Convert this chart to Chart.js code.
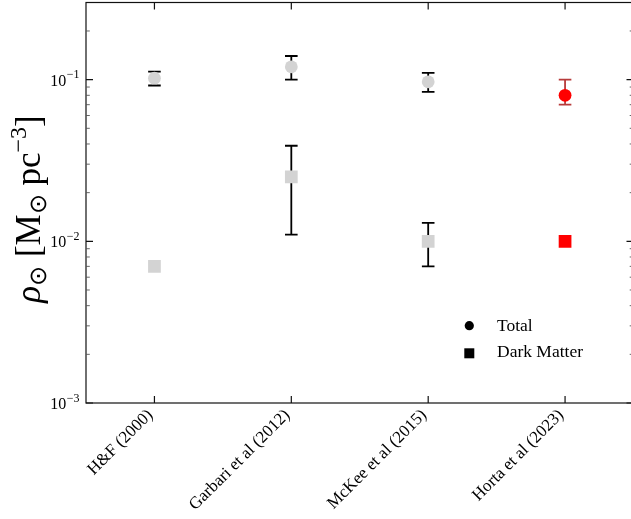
<!DOCTYPE html>
<html>
<head>
<meta charset="utf-8">
<title>Local density</title>
<script src="https://cdn.jsdelivr.net/npm/chart.js@4/dist/chart.umd.min.js"></script>
<style>
  html, body { margin: 0; padding: 0; background: #fff; overflow: hidden; }
  #wrap { width: 631px; height: 519px; overflow: hidden; position: relative; }
  canvas { display: block; }
</style>
</head>
<body>
<div id="wrap"><canvas id="chart" width="640" height="519" style="width:640px;height:519px"></canvas></div>
<script>
// Local (solar neighbourhood) mass density estimates, in Msun / pc^3
const studies = ['H&F (2000)', 'Garbari et al (2012)', 'McKee et al (2015)', 'Horta et al (2023)'];

const totalDensity = [0.102, 0.120, 0.097, 0.080];
const totalUpper   = [0.112, 0.140, 0.110, 0.100];
const totalLower   = [0.092, 0.100, 0.084, 0.070];

const dmDensity = [0.007, 0.025, 0.010, 0.010];
const dmUpper   = [null, 0.039, 0.013, null];
const dmLower   = [null, 0.011, 0.007, null];

const yTickValues = [0.001, 0.01, 0.1];
const yTickExponents = ['\u22123', '\u22122', '\u22121'];

const legendLabels = ['Total', 'Dark Matter'];

const SERIF = '"Liberation Serif", "Times New Roman", Times, serif';
const GREY = '#d3d3d3';
const RED = '#ff0000';
const markerColors = studies.map((s, i) => i === studies.length - 1 ? RED : GREY);
const barColors = studies.map((s, i) => i === studies.length - 1 ? 'rgba(170,25,25,0.85)' : '#000');

function errorBar(ctx, x, yHi, yLo, color) {
  const cap = 6.3;
  ctx.save();
  ctx.strokeStyle = color;
  ctx.lineWidth = 1.8;
  ctx.beginPath();
  ctx.moveTo(x, yHi); ctx.lineTo(x, yLo);
  ctx.moveTo(x - cap, yHi); ctx.lineTo(x + cap, yHi);
  ctx.moveTo(x - cap, yLo); ctx.lineTo(x + cap, yLo);
  ctx.stroke();
  ctx.restore();
}

const axesPlugin = {
  id: 'axesPlugin',
  beforeDatasetsDraw(chart) {
    const ctx = chart.ctx, xs = chart.scales.x, ys = chart.scales.y;
    studies.forEach((s, i) => {
      const x = xs.getPixelForValue(i);
      if (totalUpper[i] != null)
        errorBar(ctx, x, ys.getPixelForValue(totalUpper[i]), ys.getPixelForValue(totalLower[i]), barColors[i]);
      if (dmUpper[i] != null)
        errorBar(ctx, x, ys.getPixelForValue(dmUpper[i]), ys.getPixelForValue(dmLower[i]), barColors[i]);
    });
  },
  afterDraw(chart) {
    const ctx = chart.ctx, xs = chart.scales.x, ys = chart.scales.y;
    const a = chart.chartArea;
    ctx.save();

    // frame
    ctx.strokeStyle = '#111';
    ctx.lineWidth = 1.2;
    ctx.strokeRect(a.left, a.top, a.right - a.left, a.bottom - a.top);

    // y ticks (inward, mirrored on the right)
    const major = 7, minor = 3.8;
    ctx.lineCap = 'butt';
    yTickValues.forEach(v => {
      const y = ys.getPixelForValue(v);
      ctx.strokeStyle = '#111'; ctx.lineWidth = 1.2;
      ctx.beginPath();
      ctx.moveTo(a.left, y); ctx.lineTo(a.left + major, y);
      ctx.moveTo(a.right, y); ctx.lineTo(a.right - major, y);
      ctx.stroke();
    });
    const lo = Math.floor(Math.log10(ys.min)), hi = Math.ceil(Math.log10(ys.max));
    ctx.strokeStyle = '#555'; ctx.lineWidth = 0.9;
    for (let d = lo; d < hi; d++) {
      for (let m = 2; m <= 9; m++) {
        const v = m * Math.pow(10, d);
        if (v <= ys.min || v >= ys.max) continue;
        const y = ys.getPixelForValue(v);
        ctx.beginPath();
        ctx.moveTo(a.left, y); ctx.lineTo(a.left + minor, y);
        ctx.moveTo(a.right, y); ctx.lineTo(a.right - minor, y);
        ctx.stroke();
      }
    }

    // x ticks (inward, mirrored on top)
    ctx.strokeStyle = '#111'; ctx.lineWidth = 1.2;
    studies.forEach((s, i) => {
      const x = xs.getPixelForValue(i);
      ctx.beginPath();
      ctx.moveTo(x, a.bottom); ctx.lineTo(x, a.bottom - major);
      ctx.moveTo(x, a.top); ctx.lineTo(x, a.top + major);
      ctx.stroke();
    });

    // y tick labels: 10^n
    ctx.fillStyle = '#000';
    ctx.textBaseline = 'alphabetic';
    ctx.textAlign = 'left';
    yTickValues.forEach((v, k) => {
      const y = ys.getPixelForValue(v);
      ctx.font = `16px ${SERIF}`;
      const wBase = ctx.measureText('10').width;
      ctx.font = `12px ${SERIF}`;
      const wExp = ctx.measureText(yTickExponents[k]).width;
      const x0 = a.left - 7 - wBase - wExp;
      ctx.font = `16px ${SERIF}`;
      ctx.fillText('10', x0, y + 6);
      ctx.font = `12px ${SERIF}`;
      ctx.fillText(yTickExponents[k], x0 + wBase + 0.5, y - 1.5);
    });

    // x tick labels, rotated 45 degrees
    ctx.font = `17px ${SERIF}`;
    ctx.textAlign = 'right';
    ctx.textBaseline = 'middle';
    studies.forEach((s, i) => {
      const x = xs.getPixelForValue(i);
      ctx.save();
      ctx.translate(x - 4, a.bottom + 9.5);
      ctx.rotate(-Math.PI / 4);
      ctx.fillText(s, 0, 0);
      ctx.restore();
    });

    // legend
    ctx.fillStyle = '#000';
    ctx.beginPath();
    ctx.arc(469.3, 325.7, 4.6, 0, Math.PI * 2);
    ctx.fill();
    ctx.fillRect(469.3 - 5, 353.3 - 5, 10, 10);
    ctx.font = `17.5px ${SERIF}`;
    ctx.textAlign = 'left';
    ctx.textBaseline = 'alphabetic';
    ctx.fillText(legendLabels[0], 497, 330.7);
    ctx.fillText(legendLabels[1], 497, 357.3);

    // y axis title: rho_sun [M_sun pc^-3]
    const size = 35, small = 24;
    const parts = [
      { t: '\u03C1', f: `italic ${size}px ${SERIF}`, dy: 0 },
      { t: '\u2299', f: `${small}px ${SERIF}`, dy: 0.18 * size },
      { t: ' [M', f: `${size}px ${SERIF}`, dy: 0 },
      { t: '\u2299', f: `${small}px ${SERIF}`, dy: 0.18 * size },
      { t: ' pc', f: `${size}px ${SERIF}`, dy: 0 },
      { t: '\u22123', f: `${small}px ${SERIF}`, dy: -0.4 * size },
      { t: ']', f: `${size}px ${SERIF}`, dy: 0 }
    ];
    let total = 0;
    parts.forEach(p => { ctx.font = p.f; p.w = ctx.measureText(p.t).width; total += p.w; });
    ctx.save();
    ctx.translate(40, 209);
    ctx.rotate(-Math.PI / 2);
    let cx = -total / 2;
    parts.forEach(p => { ctx.font = p.f; ctx.fillText(p.t, cx, p.dy); cx += p.w; });
    ctx.restore();

    ctx.restore();
  }
};

new Chart(document.getElementById('chart'), {
  type: 'scatter',
  data: {
    datasets: [
      {
        label: legendLabels[0],
        data: totalDensity.map((v, i) => ({ x: i, y: v })),
        pointStyle: 'circle',
        pointRadius: 6.4,
        pointHoverRadius: 6.4,
        pointBorderWidth: 0,
        backgroundColor: markerColors,
        borderColor: markerColors
      },
      {
        label: legendLabels[1],
        data: dmDensity.map((v, i) => ({ x: i, y: v })),
        pointStyle: 'rect',
        pointRadius: 9,
        pointHoverRadius: 9,
        pointBorderWidth: 0,
        backgroundColor: markerColors,
        borderColor: markerColors
      }
    ]
  },
  options: {
    responsive: false,
    animation: false,
    devicePixelRatio: 1,
    layout: { autoPadding: false, padding: { left: 86, top: 2.5, right: 6.5, bottom: 116 } },
    plugins: { legend: { display: false }, tooltip: { enabled: false } },
    scales: {
      x: { type: 'linear', min: -0.5, max: 3.5, display: false },
      y: { type: 'logarithmic', min: 0.001, max: 0.3, display: false }
    }
  },
  plugins: [axesPlugin]
});
</script>
</body>
</html>
